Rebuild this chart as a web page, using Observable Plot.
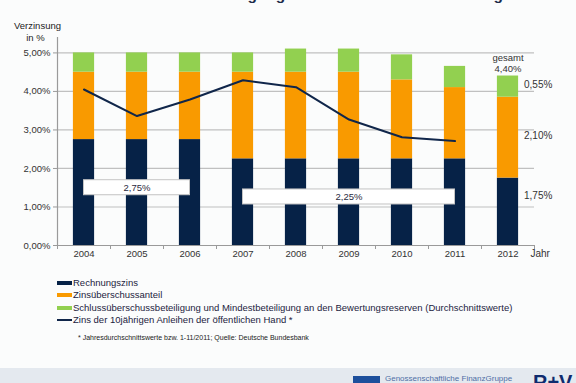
<!DOCTYPE html>
<html>
<head>
<meta charset="utf-8">
<script src="https://cdn.jsdelivr.net/npm/d3@7"></script>
<script src="https://cdn.jsdelivr.net/npm/@observablehq/plot@0.6"></script>
<style>
  html, body { margin:0; padding:0; }
  body { width:576px; height:383px; overflow:hidden; position:relative; background:#fbfcfc; font-family:"Liberation Sans", Arial, sans-serif; color:#1a1a1a; }
  .abs { position:absolute; white-space:nowrap; }
  #title { left:12px; top:-14px; font-size:16.5px; font-weight:bold; color:#1c2b4a; line-height:18px; }
  #ylab { left:14px; top:20px; width:43px; text-align:center; font-size:9.5px; line-height:12px; color:#222; }
  #chart { position:absolute; left:0; top:0; }
  .leg { position:absolute; left:57px; font-size:9.5px; line-height:12px; color:#1c2340; white-space:nowrap; }
  .sw { position:absolute; left:0; width:15px; }
  .leg span.t { position:absolute; left:16px; top:0; white-space:nowrap; }
  #note { left:78px; top:334px; font-size:7px; color:#222; }
  #footer { position:absolute; left:0; top:368px; width:576px; height:15px; background:#e4e9ef; }
  #logo { position:absolute; left:353px; top:8px; width:27px; height:10px; background:#1d4f9c; }
  #gfg { position:absolute; left:385px; top:6px; font-size:8px; color:#4f6fa6; white-space:nowrap; }
  #rv { position:absolute; left:533px; top:4px; font-size:20px; line-height:20px; font-weight:bold; color:#0f2b6e; }
</style>
</head>
<body>
<div id="title" class="abs">Übersicht zur Überschussbeteiligung der R+V Lebensversicherung AG</div>
<div id="ylab" class="abs">Verzinsung<br>in %</div>
<div id="chart"></div>
<div id="legend"></div>
<div id="note" class="abs">* Jahresdurchschnittswerte bzw. 1-11/2011; Quelle: Deutsche Bundesbank</div>
<div id="footer"><div id="logo"></div><div id="gfg">Genossenschaftliche FinanzGruppe</div><div id="rv">R+V</div></div>
<script>
// ---- data ----
const years = [2004, 2005, 2006, 2007, 2008, 2009, 2010, 2011, 2012];
const rechnungszins = [2.75, 2.75, 2.75, 2.25, 2.25, 2.25, 2.25, 2.25, 1.75];
const zinsueberschuss = [1.75, 1.75, 1.75, 2.25, 2.25, 2.25, 2.05, 1.85, 2.10];
const schlussueberschuss = [0.50, 0.50, 0.50, 0.50, 0.60, 0.60, 0.65, 0.55, 0.55];
const anleiheYears = [2004, 2005, 2006, 2007, 2008, 2009, 2010, 2011];
const anleiheZins = [4.05, 3.36, 3.79, 4.29, 4.11, 3.27, 2.81, 2.71];
const seriesNames = ["Rechnungszins", "Zinsüberschussanteil", "Schlussüberschussbeteiligung und Mindestbeteiligung an den Bewertungsreserven (Durchschnittswerte)"];
const lineName = "Zins der 10jährigen Anleihen der öffentlichen Hand *";
const yTicks = [0, 1, 2, 3, 4, 5];
const rangeLabels = ["2,75%", "2,25%"];
const rangeFrom = [2004, 2007];
const rangeTo = [2006, 2011];
const rangeY = [1.5, 1.26];
const lastYearLabels = ["0,55%", "2,10%", "1,75%"];
const lastYearLabelY = [4.17, 2.85, 1.28];
const totalWord = "gesamt";
const totalValue = "4,40%";

const colors = ["#062247", "#f99a00", "#92d050"];
const lineColor = "#10264a";

// stacked segments
const segs = [];
years.forEach((yr, i) => {
  const vals = [rechnungszins[i], zinsueberschuss[i], schlussueberschuss[i]];
  let base = 0;
  vals.forEach((v, k) => {
    segs.push({year: yr, y1: base, y2: base + v, k});
    base += v;
  });
});
const ranges = rangeLabels.map((t, i) => ({text: t, from: rangeFrom[i], to: rangeTo[i], y: rangeY[i]}));
const lastYear = years[years.length - 1];
const lastTotal = rechnungszins[8] + zinsueberschuss[8] + schlussueberschuss[8];
const boundaries = d3.range(years[0] - 0.5, lastYear + 1, 1);

const fmt = d => d.toFixed(2).replace(".", ",") + "%";
const font = "'Liberation Sans', Arial, sans-serif";

const chart = Plot.plot({
  width: 576, height: 262,
  marginLeft: 57, marginRight: 42, marginTop: 37, marginBottom: 17,
  style: {background: "transparent", fontFamily: font, fontSize: "9.5px", color: "#333"},
  x: {domain: [years[0] - 0.5, lastYear + 0.5], axis: null},
  y: {domain: [0, 5.4], axis: null},
  marks: [
    Plot.ruleY(yTicks.slice(1), {stroke: "#c0c0c0", strokeWidth: 1.2}),
    Plot.rect(segs, {x1: d => d.year - 0.2, x2: d => d.year + 0.2, y1: "y1", y2: "y2", fill: d => colors[d.k]}),
    Plot.line(anleiheYears.map((y, i) => ({x: y, v: anleiheZins[i]})), {x: "x", y: "v", stroke: lineColor, strokeWidth: 2}),
    Plot.rect(ranges, {x1: "from", x2: "to", y1: d => d.y - 0.195, y2: d => d.y + 0.195, fill: "white", stroke: "#c4c4c4"}),
    Plot.text(ranges, {x: d => (d.from + d.to) / 2, y: "y", text: "text", fill: "#2a2a40", fontSize: 9.5}),
    Plot.ruleY([0], {stroke: "#9a9a9a", strokeWidth: 1.2}),
    Plot.ruleX([years[0] - 0.5], {stroke: "#9a9a9a", strokeWidth: 1.2}),
    Plot.axisY({ticks: yTicks, tickFormat: fmt, tickSize: 4, tickPadding: 3, stroke: "#9a9a9a", label: null, fill: "#333", fontSize: 9.5}),
    Plot.axisX({ticks: boundaries, tickFormat: () => "", tickSize: 4, stroke: "#9a9a9a", label: null}),
    Plot.axisX({ticks: years, tickFormat: d => String(d), tickSize: 0, tickPadding: 5, label: null, fill: "#333", fontSize: 9.5}),
    Plot.text(lastYearLabels.map((t, i) => ({t, y: lastYearLabelY[i]})), {x: () => lastYear, y: "y", text: "t", dx: 16, textAnchor: "start", fill: "#333", fontSize: 10}),
    Plot.text([totalWord], {x: () => lastYear, y: () => lastTotal, text: d => d, dy: -18, fill: "#333", fontSize: 9.5}),
    Plot.text([totalValue], {x: () => lastYear, y: () => lastTotal, text: d => d, dy: -7, fill: "#333", fontSize: 9.5}),
    Plot.text(["Jahr"], {frameAnchor: "bottom-right", text: d => d, dx: -4, dy: 11, textAnchor: "start", fill: "#333", fontSize: 10})
  ]
});
document.getElementById("chart").appendChild(chart);

// fit title width to reference span
const title = document.getElementById("title");
const w = title.getBoundingClientRect().width;
title.style.fontSize = (16.5 * 518 / w) + "px";

// legend
const legend = document.getElementById("legend");
const legItems = seriesNames.map((n, i) => ({n, c: colors[i], h: 4})).concat([{n: lineName, c: lineColor, h: 2}]);
legItems.forEach((it, i) => {
  const d = document.createElement("div");
  d.className = "leg";
  d.style.top = (277 + i * 12.3) + "px";
  const s = document.createElement("div");
  s.className = "sw";
  s.style.background = it.c;
  s.style.height = it.h + "px";
  s.style.top = (6 - it.h / 2) + "px";
  const t = document.createElement("span");
  t.className = "t";
  t.textContent = it.n;
  d.appendChild(s); d.appendChild(t);
  legend.appendChild(d);
});
</script>
</body>
</html>
